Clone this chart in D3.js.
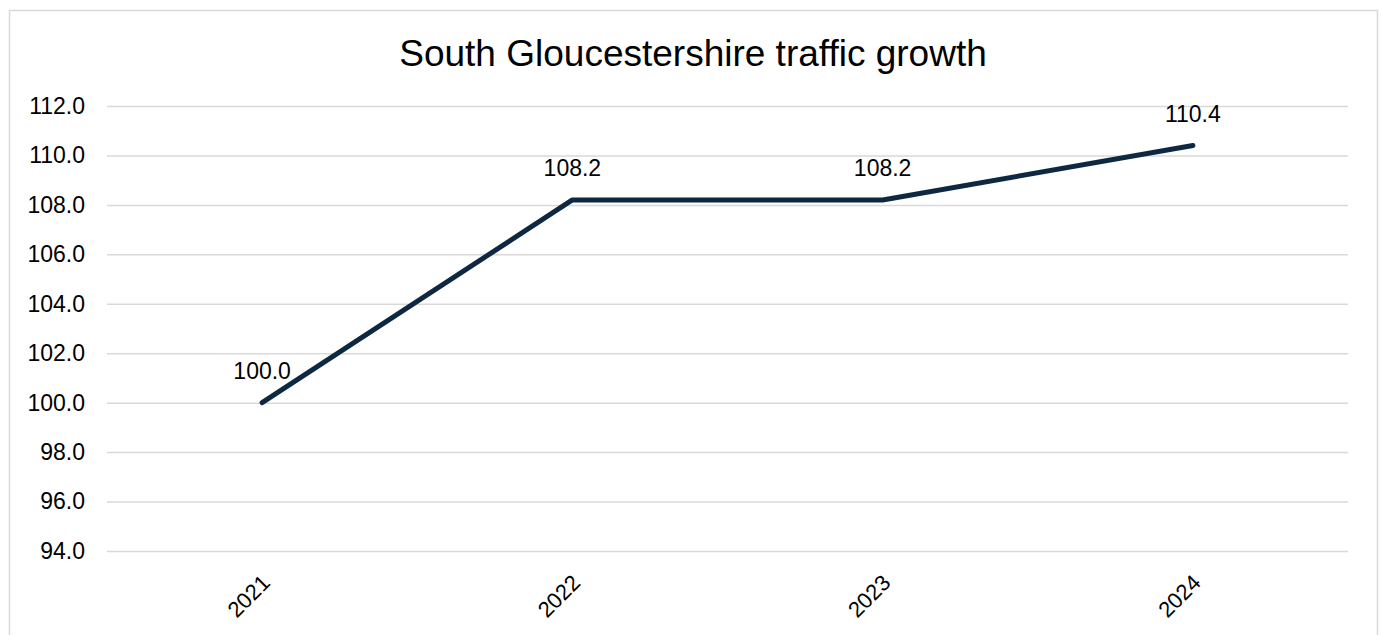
<!DOCTYPE html>
<html>
<head>
<meta charset="utf-8">
<script src="https://cdn.jsdelivr.net/npm/d3@7"></script>
<style>
  html, body { margin: 0; padding: 0; background: #fff; }
  svg { display: block; font-family: Arial, "Liberation Sans", sans-serif; }
</style>
</head>
<body>
<svg id="chart" width="1381" height="635"></svg>
<script>
const title = "South Gloucestershire traffic growth";
const years = ["2021", "2022", "2023", "2024"];
const values = [100.0, 108.2, 108.2, 110.4];
const yTicks = [94, 96, 98, 100, 102, 104, 106, 108, 110, 112];

const svg = d3.select("#chart");

// chart border
svg.append("rect")
  .attr("x", 9.5).attr("y", 10.5)
  .attr("width", 1368).attr("height", 700)
  .attr("fill", "#fff").attr("stroke", "#d9d9d9").attr("stroke-width", 1.5);

const x = d3.scaleBand().domain(years).range([107, 1348]).padding(0);
const y = d3.scaleLinear().domain([94, 112]).range([551, 106]);

// title
svg.append("text")
  .attr("x", 693).attr("y", 66)
  .attr("text-anchor", "middle")
  .attr("font-size", 37)
  .attr("fill", "#000")
  .text(title);

// gridlines + y labels
const yAxis = d3.axisLeft(y).tickValues(yTicks).tickSize(-(1348 - 107)).tickFormat(d3.format(".1f"));
const gy = svg.append("g").attr("transform", "translate(107,0)").call(yAxis);
gy.select(".domain").remove();
gy.selectAll(".tick line").attr("stroke", "#d9d9d9").attr("stroke-width", 1.5);
gy.selectAll(".tick text")
  .attr("x", -22)
  .attr("font-size", 23)
  .attr("fill", "#000")
  .attr("font-family", "Arial, 'Liberation Sans', sans-serif");

// x axis labels
const xAxis = d3.axisBottom(x).tickSize(0);
const gx = svg.append("g").attr("transform", "translate(0,551)").call(xAxis);
gx.select(".domain").remove();
gx.selectAll(".tick text")
  .attr("font-size", 22)
  .attr("fill", "#000")
  .attr("font-family", "Arial, 'Liberation Sans', sans-serif")
  .attr("text-anchor", "end")
  .attr("x", 0).attr("y", 0)
  .attr("dy", "0.72em")
  .attr("transform", "translate(-2,22) rotate(-45)");

// line
const cx = d => x(d) + x.bandwidth() / 2;
const line = d3.line().x((d, i) => cx(years[i])).y(d => y(d));
svg.append("path")
  .datum(values)
  .attr("d", line)
  .attr("fill", "none")
  .attr("stroke", "#0e2841")
  .attr("stroke-width", 5)
  .attr("stroke-linecap", "round")
  .attr("stroke-linejoin", "round");

// data labels
svg.append("g").selectAll("text")
  .data(values)
  .join("text")
  .attr("x", (d, i) => cx(years[i]))
  .attr("y", d => y(d) - 24)
  .attr("text-anchor", "middle")
  .attr("font-size", 23)
  .attr("fill", "#000")
  .text(d => d3.format(".1f")(d));
</script>
</body>
</html>
